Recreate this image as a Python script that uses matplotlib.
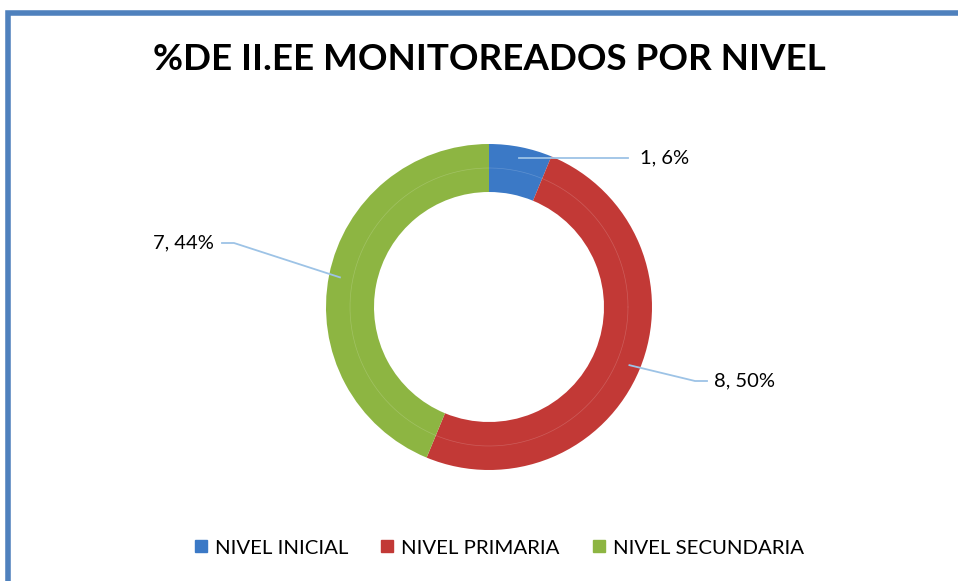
import numpy as np
import matplotlib.pyplot as plt
from matplotlib.lines import Line2D

categories = ["NIVEL INICIAL", "NIVEL PRIMARIA", "NIVEL SECUNDARIA"]
counts = [1, 8, 7]
percent_labels = ["6%", "50%", "44%"]
colors = ["#3B79C6", "#C23936", "#8DB542"]

plt.rcParams['font.family'] = ['Lato', 'DejaVu Sans']

W, H = 958, 581
fig = plt.figure(figsize=(W / 100, H / 100), dpi=100)
ax = fig.add_axes([0, 0, 1, 1])

# frame lines (left and top)
ax.plot([8.5, 8.5, W + 5], [-5, H - 12.5, H - 12.5], color="#4F81BD", lw=4, solid_joinstyle='miter')

cx, cy = 489, H - 307
r_out, r_in = 163, 115

wedges, _ = ax.pie(counts, colors=colors, startangle=90, counterclock=False,
                   center=(cx, cy), radius=r_out, frame=True,
                   wedgeprops=dict(width=r_out - r_in, linewidth=0))
ax.set_xlim(0, W)
ax.set_ylim(0, H)
ax.set_aspect('equal')
ax.axis('off')

# faint line between the two rings
t = np.linspace(0, 2 * np.pi, 400)
ax.plot(cx + 139 * np.cos(t), cy + 139 * np.sin(t), color="white", lw=0.5, alpha=0.18)

ax.text(W / 2 + 10, H - 60, "%DE II.EE MONITOREADOS POR NIVEL", ha='center', va='center',
        fontsize=26.5, fontweight='bold', color='black')

# data labels with leader lines
lead = "#9DC3E6"
label_pos = [(640, H - 158, 'left', -12, 0), (714, H - 381, 'left', -7, -12), (214, H - 243, 'right', 8, 12)]
for w, n, p, (tx, ty, ha, gap, elbow) in zip(wedges, counts, percent_labels, label_pos):
    ang = np.deg2rad((w.theta1 + w.theta2) / 2)
    ax_, ay_ = cx + 152 * np.cos(ang), cy + 152 * np.sin(ang)
    ex = tx + gap
    if elbow:
        ax.plot([ax_, ex + elbow, ex], [ay_, ty, ty], color=lead, lw=1.3)
    else:
        ax.plot([ax_, ex], [ty, ty], color=lead, lw=1.3)
    ax.text(tx, ty, f"{n}, {p}", ha=ha, va='center', fontsize=14.5, color='black')

handles = [Line2D([], [], marker='s', ls='', color=c, markersize=9) for c in colors]
fig.legend(handles, categories, loc='center', bbox_to_anchor=(492 / W, 1 - 548 / H), ncol=3,
           frameon=False, fontsize=14.7, handletextpad=-0.3, columnspacing=0.9)

fig.savefig("out.png", dpi=100)
